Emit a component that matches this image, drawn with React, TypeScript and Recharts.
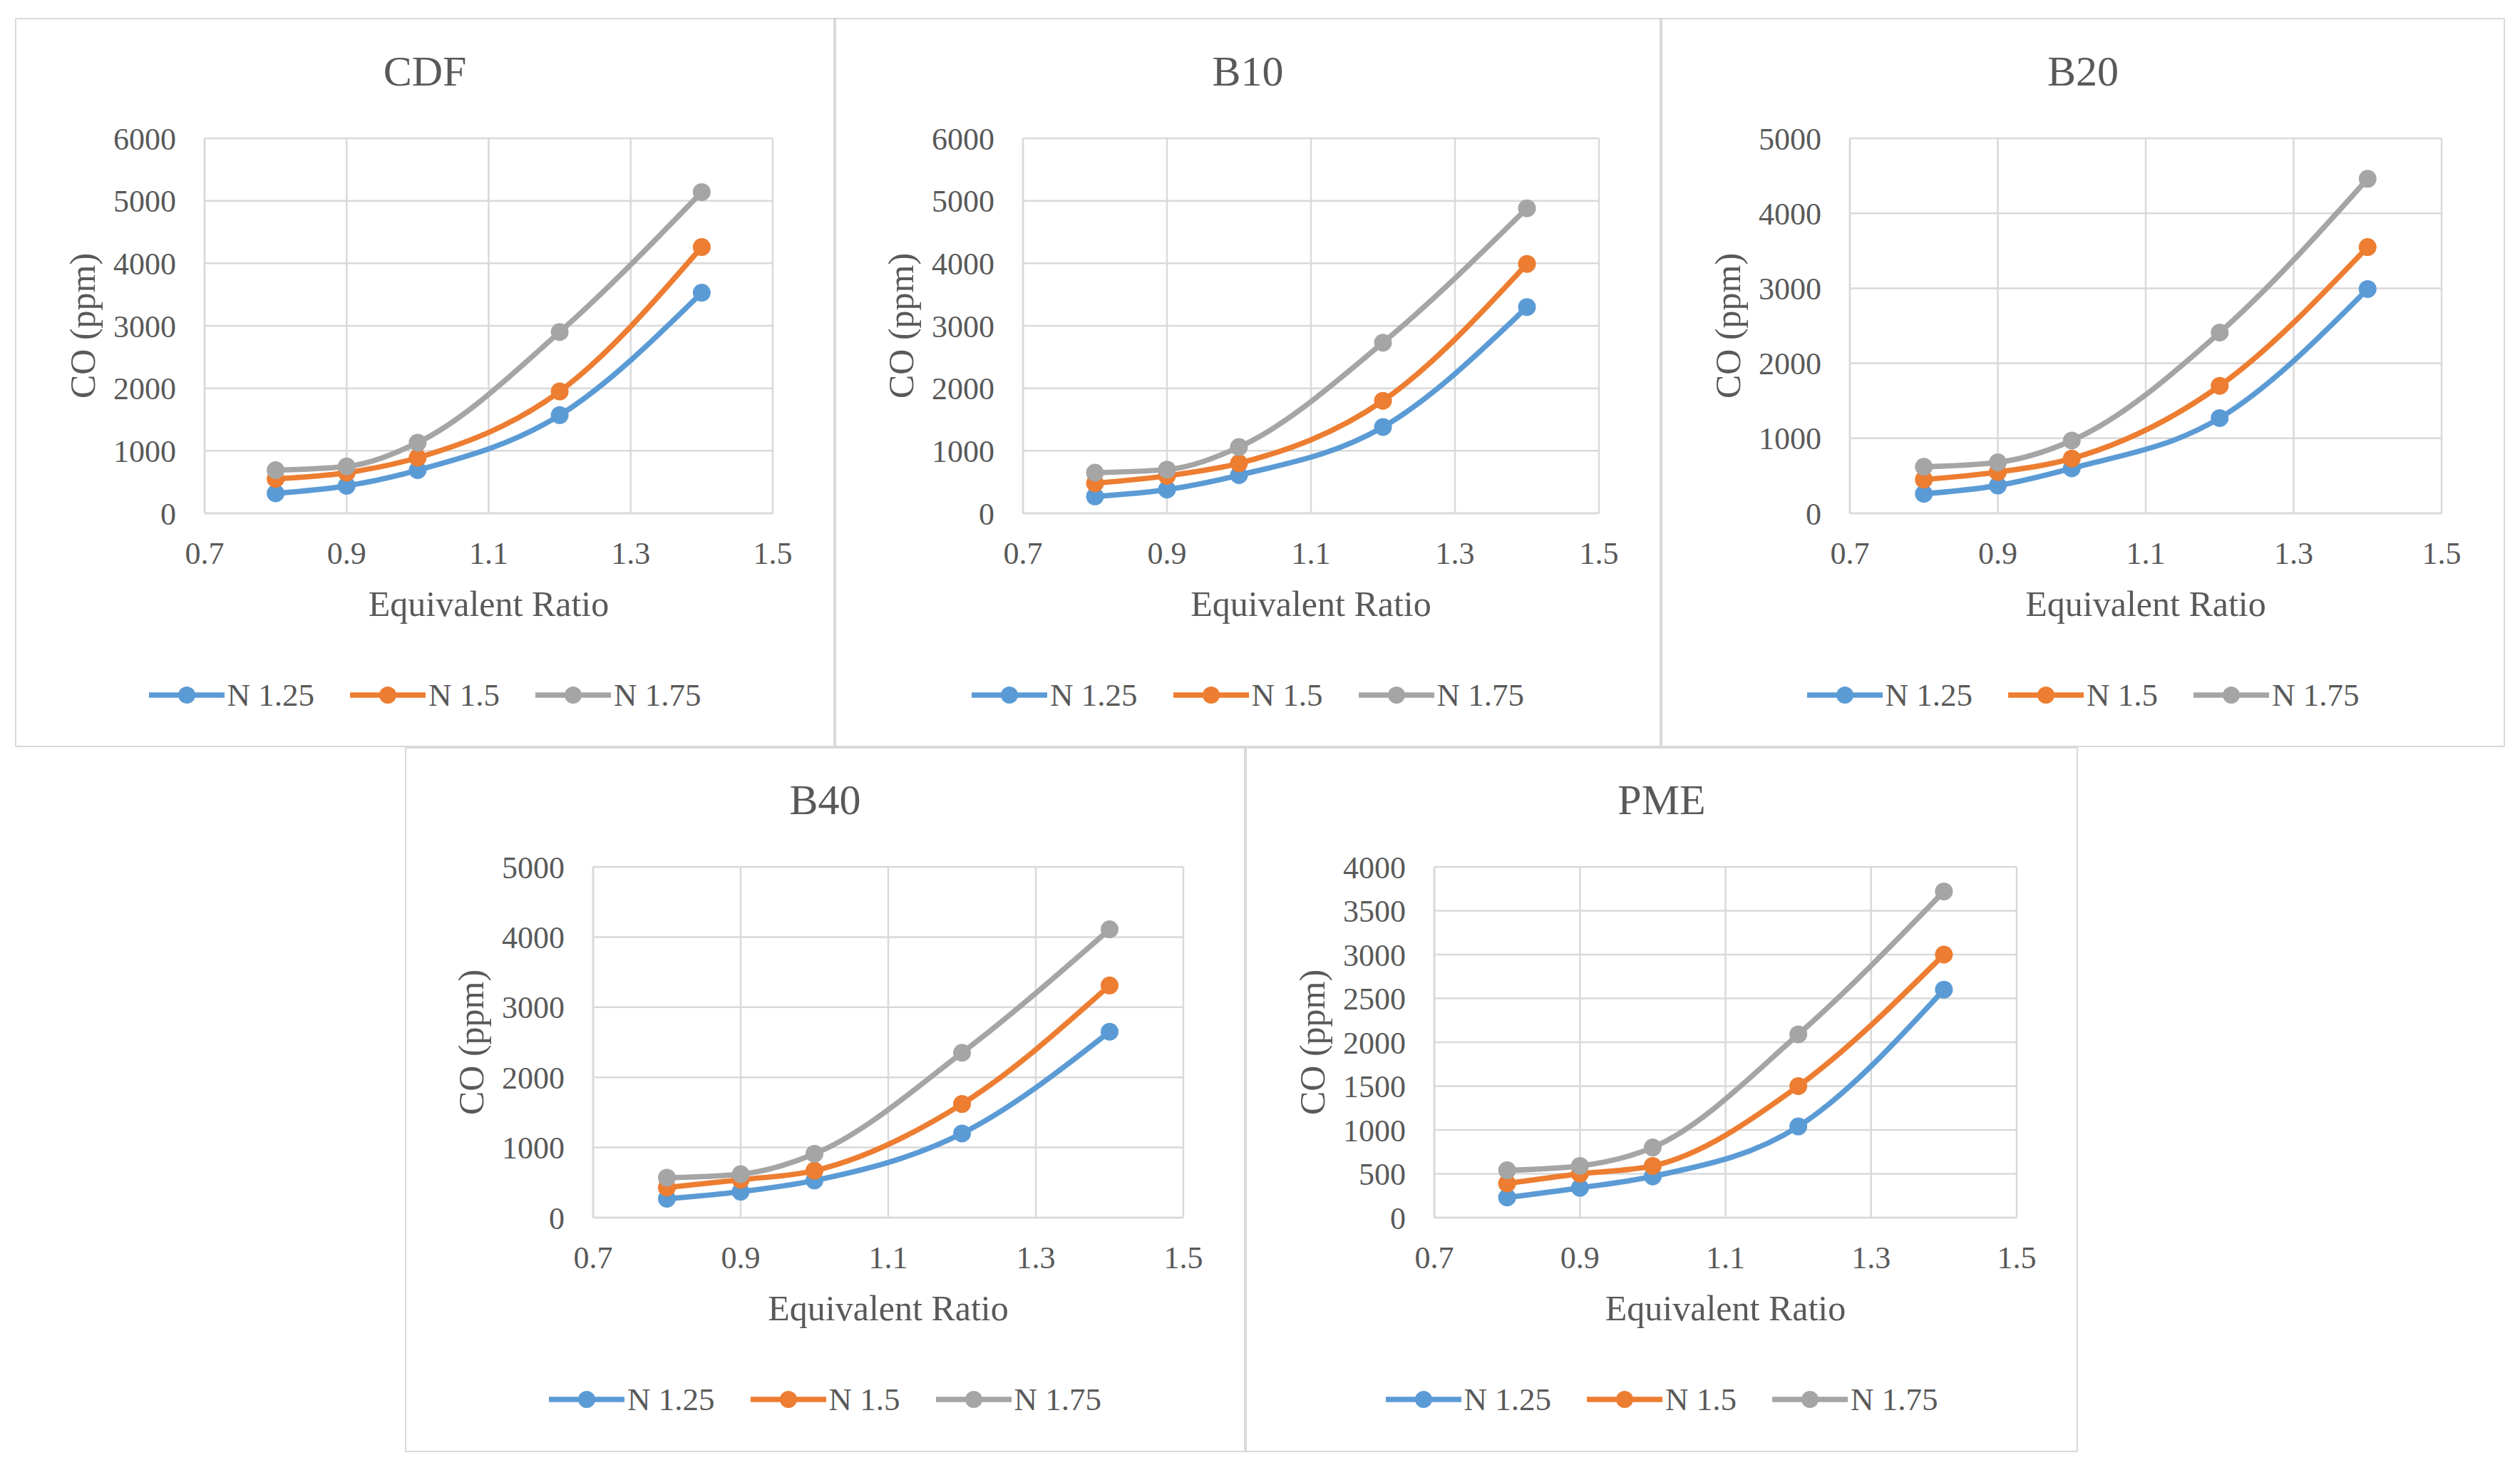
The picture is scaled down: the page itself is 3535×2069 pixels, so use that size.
import React from "react";
import {
  LineChart,
  Line,
  XAxis,
  YAxis,
  CartesianGrid,
  Legend,
} from "recharts";

// equivalent ratio values where CO was measured
const ratios = [0.8, 0.9, 1.0, 1.2, 1.4];
const xTicks = [0.7, 0.9, 1.1, 1.3, 1.5];
const seriesNames = ["N 1.25", "N 1.5", "N 1.75"];
const seriesColors = ["#5B9BD5", "#ED7D31", "#A5A5A5"];

// CO (ppm) per fuel
const cdfN125 = [320, 440, 690, 1570, 3530];
const cdfN15 = [550, 650, 890, 1950, 4260];
const cdfN175 = [690, 750, 1130, 2900, 5140];

const b10N125 = [270, 380, 610, 1380, 3300];
const b10N15 = [480, 600, 800, 1800, 3990];
const b10N175 = [650, 700, 1060, 2730, 4880];

const b20N125 = [260, 370, 600, 1270, 2990];
const b20N15 = [450, 550, 730, 1700, 3550];
const b20N175 = [620, 680, 970, 2410, 4460];

const b40N125 = [270, 370, 530, 1200, 2650];
const b40N15 = [430, 540, 670, 1620, 3310];
const b40N175 = [570, 620, 910, 2350, 4110];

const pmeN125 = [230, 340, 470, 1040, 2600];
const pmeN15 = [390, 500, 590, 1500, 3000];
const pmeN175 = [540, 590, 800, 2090, 3720];

const ticks6000 = [0, 1000, 2000, 3000, 4000, 5000, 6000];
const ticks5000 = [0, 1000, 2000, 3000, 4000, 5000];
const ticks4000 = [0, 500, 1000, 1500, 2000, 2500, 3000, 3500, 4000];

const FONT = '"Liberation Serif", "Times New Roman", serif';
const TEXT = "#595959";
const GRID = "#d9d9d9";

const buildRows = (a: number[], b: number[], c: number[]) =>
  ratios.map((x, i) => ({ x, s0: a[i], s1: b[i], s2: c[i] }));

type Box = { x: number; y: number; w: number; h: number };
type Plot = { l: number; t: number; r: number; b: number };

const renderLegend = (props: any) => {
  const { payload = [] } = props;
  return (
    <div
      style={{
        display: "flex",
        justifyContent: "center",
        alignItems: "center",
        height: 60,
        fontFamily: FONT,
        fontSize: 45,
        color: TEXT,
      }}
    >
      {payload.map((entry: any, i: number) => (
        <div
          key={i}
          style={{
            display: "flex",
            alignItems: "center",
            marginLeft: i === 0 ? 0 : 50,
          }}
        >
          <svg width={106} height={30}>
            <line x1={0} y1={15} x2={106} y2={15} stroke={entry.color} strokeWidth={7.5} />
            <circle cx={53} cy={15} r={12} fill={entry.color} />
          </svg>
          <span style={{ marginLeft: 4 }}>{entry.value}</span>
        </div>
      ))}
    </div>
  );
};

const Panel = ({
  title,
  box,
  plot,
  yTicks,
  rows,
}: {
  title: string;
  box: Box;
  plot: Plot;
  yTicks: number[];
  rows: Array<{ x: number; s0: number; s1: number; s2: number }>;
}) => {
  const xAxisHeight = 150;
  const yAxisWidth = plot.l - box.x;
  const margin = {
    top: plot.t - box.y,
    right: box.x + box.w - plot.r,
    left: 0,
    bottom: box.y + box.h - plot.b - xAxisHeight,
  };
  const tickStyle = { fontFamily: FONT, fontSize: 44, fill: TEXT };
  return (
    <div
      style={{
        position: "absolute",
        left: box.x,
        top: box.y,
        width: box.w,
        height: box.h,
        boxShadow: `inset 0 0 0 2px ${GRID}`,
        background: "#fff",
      }}
    >
      <div
        style={{
          position: "absolute",
          left: 0,
          width: box.w,
          top: plot.t - box.y - 94 - 40,
          height: 80,
          lineHeight: "80px",
          textAlign: "center",
          fontFamily: FONT,
          fontSize: 60,
          color: TEXT,
        }}
      >
        {title}
      </div>
      <LineChart width={box.w} height={box.h} data={rows} margin={margin}>
        <CartesianGrid stroke={GRID} strokeWidth={2.5} />
        <XAxis
          dataKey="x"
          type="number"
          domain={[0.7, 1.5]}
          ticks={xTicks}
          tickFormatter={(v: number) => v.toFixed(1)}
          height={xAxisHeight}
          tickLine={false}
          tickSize={0}
          tickMargin={40}
          axisLine={{ stroke: GRID, strokeWidth: 2.5 }}
          tick={tickStyle}
          label={{
            value: "Equivalent Ratio",
            position: "insideTop",
            offset: 108,
            style: { fontFamily: FONT, fontSize: 50, fill: TEXT },
          }}
        />
        <YAxis
          type="number"
          domain={[yTicks[0], yTicks[yTicks.length - 1]]}
          ticks={yTicks}
          interval={0}
          width={yAxisWidth}
          tickLine={false}
          tickSize={0}
          tickMargin={40}
          axisLine={{ stroke: GRID, strokeWidth: 2.5 }}
          tick={tickStyle}
          label={{
            value: "CO (ppm)",
            angle: -90,
            position: "insideLeft",
            offset: yAxisWidth - 172,
            style: { fontFamily: FONT, fontSize: 50, fill: TEXT, textAnchor: "middle" },
          }}
        />
        <Legend
          layout="horizontal"
          verticalAlign="middle"
          align="center"
          content={renderLegend}
          wrapperStyle={{ top: plot.b - box.y + 255 - 30, left: 0, width: box.w }}
        />
        {seriesNames.map((name, i) => (
          <Line
            key={name}
            type="monotone"
            dataKey={`s${i}`}
            name={name}
            stroke={seriesColors[i]}
            strokeWidth={7.5}
            dot={{ r: 12.5, fill: seriesColors[i], stroke: "none" }}
            activeDot={false}
            isAnimationActive={false}
          />
        ))}
      </LineChart>
    </div>
  );
};

const App = () => {
  return (
    <div
      style={{
        position: "absolute",
        left: 0,
        top: 0,
        width: 3535,
        height: 2069,
        background: "#fff",
      }}
    >
      <Panel
        title="CDF"
        box={{ x: 21, y: 25, w: 1150, h: 1023 }}
        plot={{ l: 287, t: 194, r: 1084, b: 720 }}
        yTicks={ticks6000}
        rows={buildRows(cdfN125, cdfN15, cdfN175)}
      />
      <Panel
        title="B10"
        box={{ x: 1171, y: 25, w: 1159, h: 1023 }}
        plot={{ l: 1435, t: 194, r: 2243, b: 720 }}
        yTicks={ticks6000}
        rows={buildRows(b10N125, b10N15, b10N175)}
      />
      <Panel
        title="B20"
        box={{ x: 2330, y: 25, w: 1184, h: 1023 }}
        plot={{ l: 2595, t: 194, r: 3425, b: 720 }}
        yTicks={ticks5000}
        rows={buildRows(b20N125, b20N15, b20N175)}
      />
      <Panel
        title="B40"
        box={{ x: 568, y: 1048, w: 1179, h: 989 }}
        plot={{ l: 832, t: 1216, r: 1660, b: 1708 }}
        yTicks={ticks5000}
        rows={buildRows(b40N125, b40N15, b40N175)}
      />
      <Panel
        title="PME"
        box={{ x: 1747, y: 1048, w: 1168, h: 989 }}
        plot={{ l: 2012, t: 1216, r: 2829, b: 1708 }}
        yTicks={ticks4000}
        rows={buildRows(pmeN125, pmeN15, pmeN175)}
      />
    </div>
  );
};

export default App;
